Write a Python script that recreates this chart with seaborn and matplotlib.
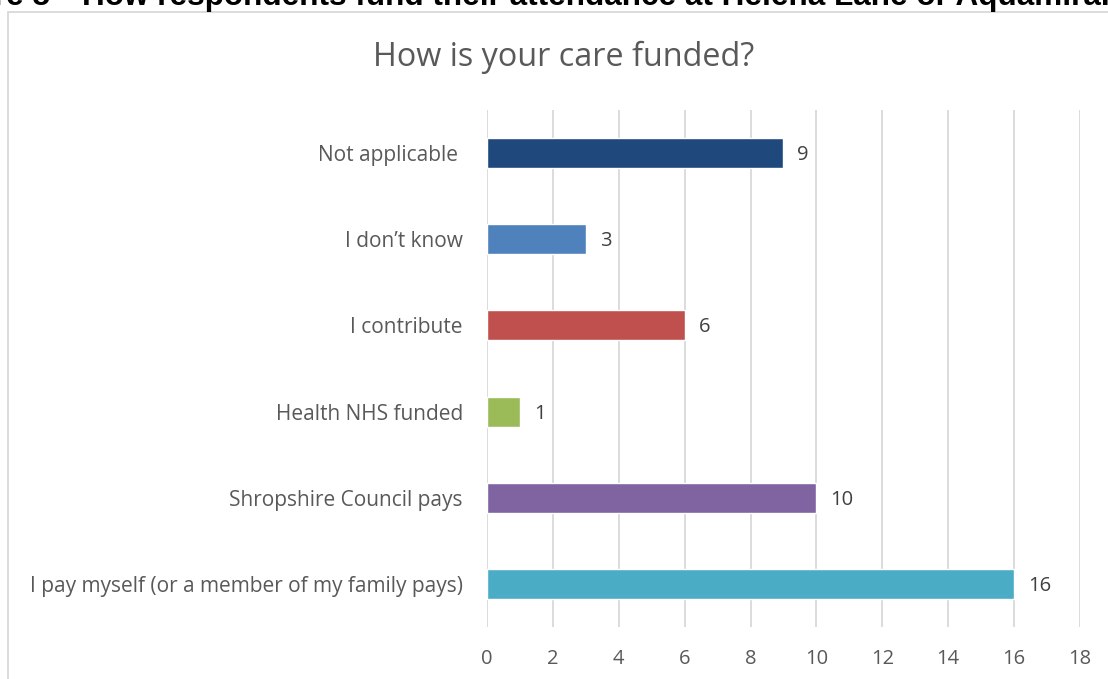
import matplotlib
matplotlib.use("Agg")
import matplotlib.pyplot as plt
import seaborn as sns
import pandas as pd
from matplotlib.patches import Rectangle

categories = [
    "Not applicable ",
    "I don\u2019t know",
    "I contribute",
    "Health NHS funded",
    "Shropshire Council pays",
    "I pay myself (or a member of my family pays)",
]
counts = [9, 3, 6, 1, 10, 16]
bar_colors = ["#1F497D", "#4F81BD", "#C0504D", "#9BBB59", "#8064A2", "#4BACC6"]
x_ticks = [0, 2, 4, 6, 8, 10, 12, 14, 16, 18]

chart_title = "How is your care funded?"
figure_number = "Figure 5"
figure_caption = "How respondents fund their attendance at Helena Lane or Aquamira."

sns.set_theme(style="white")
plt.rcParams["font.family"] = ["Open Sans", "DejaVu Sans"]

W, H = 1108, 679
PT = 72 / 100  # points per pixel at dpi 100
fig = plt.figure(figsize=(W / 100, H / 100), dpi=100)

# chart frame
fig.patches.append(Rectangle((8 / W, -0.1), 1.2, 1 - 12 / H + 0.1,
                             transform=fig.transFigure, fill=False,
                             edgecolor="#d9d9d9", linewidth=1.3, zorder=0))

ax = fig.add_axes([487 / W, 1 - 627 / H, (1080 - 487) / W, (627 - 110) / H])

df = pd.DataFrame({"category": categories, "count": counts})
sns.barplot(data=df, x="count", y="category", hue="category",
            palette=dict(zip(categories, bar_colors)), orient="h",
            width=0.35, legend=False, saturation=1, ax=ax, zorder=3)

ax.set_xlim(0, 18)
ax.set_xticks(x_ticks)
ax.set_xticklabels([str(t) for t in x_ticks])
ax.grid(axis="x", color="#d9d9d9", linewidth=1.3, zorder=0)
ax.grid(axis="y", visible=False)
for s in ax.spines.values():
    s.set_visible(False)
ax.set_xlabel("")
ax.set_ylabel("")
ax.tick_params(axis="x", length=0, pad=22 * PT, labelsize=14.5, labelcolor="#595959")
ax.tick_params(axis="y", length=0, pad=24 * PT, labelsize=15, labelcolor="#595959")

for i, v in enumerate(counts):
    ax.annotate(str(v), xy=(v, i), xytext=(14 * PT, -2 * PT), textcoords="offset points",
                va="center", ha="left", fontsize=14.5, color="#404040")

fig.text(564 / W, 1 - 57 / H, chart_title, ha="center", va="center",
         fontsize=23.3, color="#595959")

# caption line above the frame, partly outside the page
cap = fig.text(82 / W, 1 - 5 / H, figure_caption, ha="left", va="baseline",
               fontsize=20, fontweight="bold", family="Liberation Sans",
               color="black")
fig.canvas.draw()
w = cap.get_window_extent().width
cap.set_fontsize(20 * (1108 - 82) / w)
fig.text(50 / W, 1 - 5 / H, figure_number, ha="right", va="baseline",
         fontsize=cap.get_fontsize(), fontweight="bold",
         family="Liberation Sans", color="black")

fig.savefig("out.png", dpi=100)
